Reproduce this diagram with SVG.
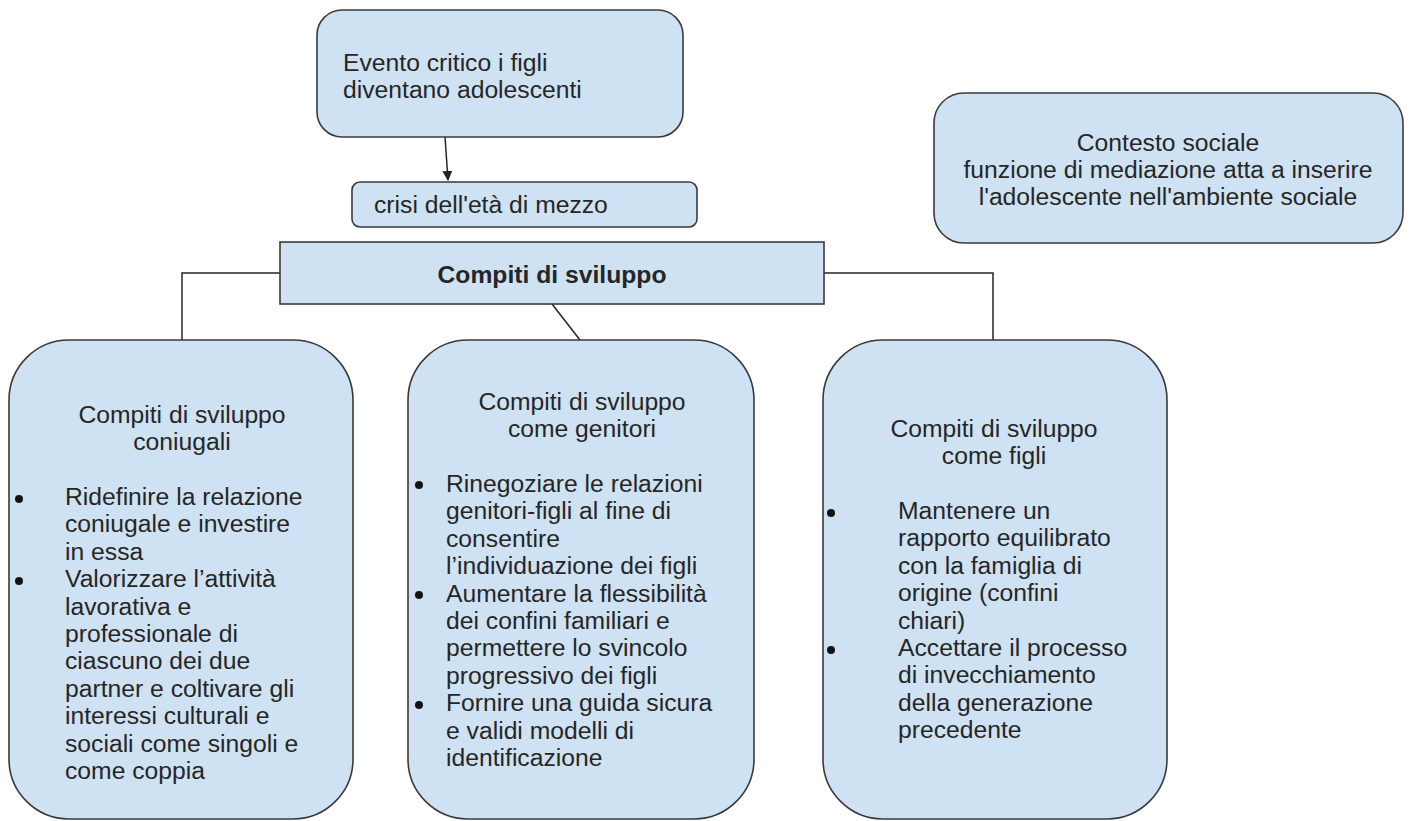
<svg xmlns="http://www.w3.org/2000/svg" width="1410" height="821" viewBox="0 0 1410 821">
<defs>
<style>
.box{fill:#cfe2f3;stroke:#3a3a3a;stroke-width:1.6}
.t{font-family:"Liberation Sans",Arial,sans-serif;font-size:24.7px;fill:#262626}
.c{text-anchor:middle}
.b{font-weight:bold}
.ln{stroke:#262626;stroke-width:1.5;fill:none}
.dot{fill:#111}
</style>
<marker id="ah" viewBox="0 0 10 10" refX="9" refY="5" markerWidth="10" markerHeight="10" orient="auto" markerUnits="userSpaceOnUse">
<path d="M0,0 L10,5 L0,10 z" fill="#222"/>
</marker>
</defs>
<rect width="1410" height="821" fill="#fff"/>

<g id="connectors">
<line class="ln" x1="445" y1="137" x2="448" y2="180" marker-end="url(#ah)"/>
<polyline class="ln" points="280,273 182,273 182,340"/>
<polyline class="ln" points="824,273 993,273 993,340"/>
<line class="ln" x1="552" y1="304" x2="580" y2="340"/>
</g>

<g id="evento">
<rect class="box" x="317" y="10" width="366" height="127" rx="25"/>
<text class="t" x="343" y="71">Evento critico i figli</text>
<text class="t" x="343" y="98">diventano adolescenti</text>
</g>

<g id="crisi">
<rect class="box" x="352" y="182" width="345" height="45" rx="8"/>
<text class="t" x="374" y="213">crisi dell'età di mezzo</text>
</g>

<g id="contesto">
<rect class="box" x="934" y="93" width="469" height="150" rx="30"/>
<text class="t c" x="1168" y="151">Contesto sociale</text>
<text class="t c" x="1168" y="178">funzione di mediazione atta a inserire</text>
<text class="t c" x="1168" y="205">l'adolescente nell'ambiente sociale</text>
</g>

<g id="compiti">
<rect class="box" x="280" y="242" width="544" height="62"/>
<text class="t c b" x="552" y="283">Compiti di sviluppo</text>
</g>

<g id="coniugali">
<rect class="box" x="9" y="340" width="344" height="479" rx="60"/>
<text class="t c" x="182" y="423">Compiti di sviluppo</text>
<text class="t c" x="182" y="450">coniugali</text>
<circle class="dot" cx="19" cy="499" r="4"/>
<circle class="dot" cx="19" cy="581" r="4"/>
<text class="t" x="65" y="505">Ridefinire la relazione</text>
<text class="t" x="65" y="532.4">coniugale e investire</text>
<text class="t" x="65" y="559.8">in essa</text>
<text class="t" x="65" y="587.2">Valorizzare l’attività</text>
<text class="t" x="65" y="614.6">lavorativa e</text>
<text class="t" x="65" y="642">professionale di</text>
<text class="t" x="65" y="669.4">ciascuno dei due</text>
<text class="t" x="65" y="696.8">partner e coltivare gli</text>
<text class="t" x="65" y="724.2">interessi culturali e</text>
<text class="t" x="65" y="751.6">sociali come singoli e</text>
<text class="t" x="65" y="779">come coppia</text>
</g>

<g id="genitori">
<rect class="box" x="408" y="340" width="346" height="479" rx="60"/>
<text class="t c" x="582" y="410">Compiti di sviluppo</text>
<text class="t c" x="582" y="437">come genitori</text>
<circle class="dot" cx="419" cy="485" r="4"/>
<circle class="dot" cx="419" cy="595" r="4"/>
<circle class="dot" cx="419" cy="705" r="4"/>
<text class="t" x="446" y="492">Rinegoziare le relazioni</text>
<text class="t" x="446" y="519.4">genitori-figli al fine di</text>
<text class="t" x="446" y="546.8">consentire</text>
<text class="t" x="446" y="574.2">l’individuazione dei figli</text>
<text class="t" x="446" y="601.6">Aumentare la flessibilità</text>
<text class="t" x="446" y="629">dei confini familiari e</text>
<text class="t" x="446" y="656.4">permettere lo svincolo</text>
<text class="t" x="446" y="683.8">progressivo dei figli</text>
<text class="t" x="446" y="711.2">Fornire una guida sicura</text>
<text class="t" x="446" y="738.6">e validi modelli di</text>
<text class="t" x="446" y="766">identificazione</text>
</g>

<g id="figli">
<rect class="box" x="823" y="340" width="344" height="479" rx="60"/>
<text class="t c" x="994" y="437">Compiti di sviluppo</text>
<text class="t c" x="994" y="464">come figli</text>
<circle class="dot" cx="831" cy="513" r="4"/>
<circle class="dot" cx="831" cy="650" r="4"/>
<text class="t" x="898" y="519">Mantenere un</text>
<text class="t" x="898" y="546.4">rapporto equilibrato</text>
<text class="t" x="898" y="573.8">con la famiglia di</text>
<text class="t" x="898" y="601.2">origine (confini</text>
<text class="t" x="898" y="628.6">chiari)</text>
<text class="t" x="898" y="656">Accettare il processo</text>
<text class="t" x="898" y="683.4">di invecchiamento</text>
<text class="t" x="898" y="710.8">della generazione</text>
<text class="t" x="898" y="738.2">precedente</text>
</g>
</svg>
